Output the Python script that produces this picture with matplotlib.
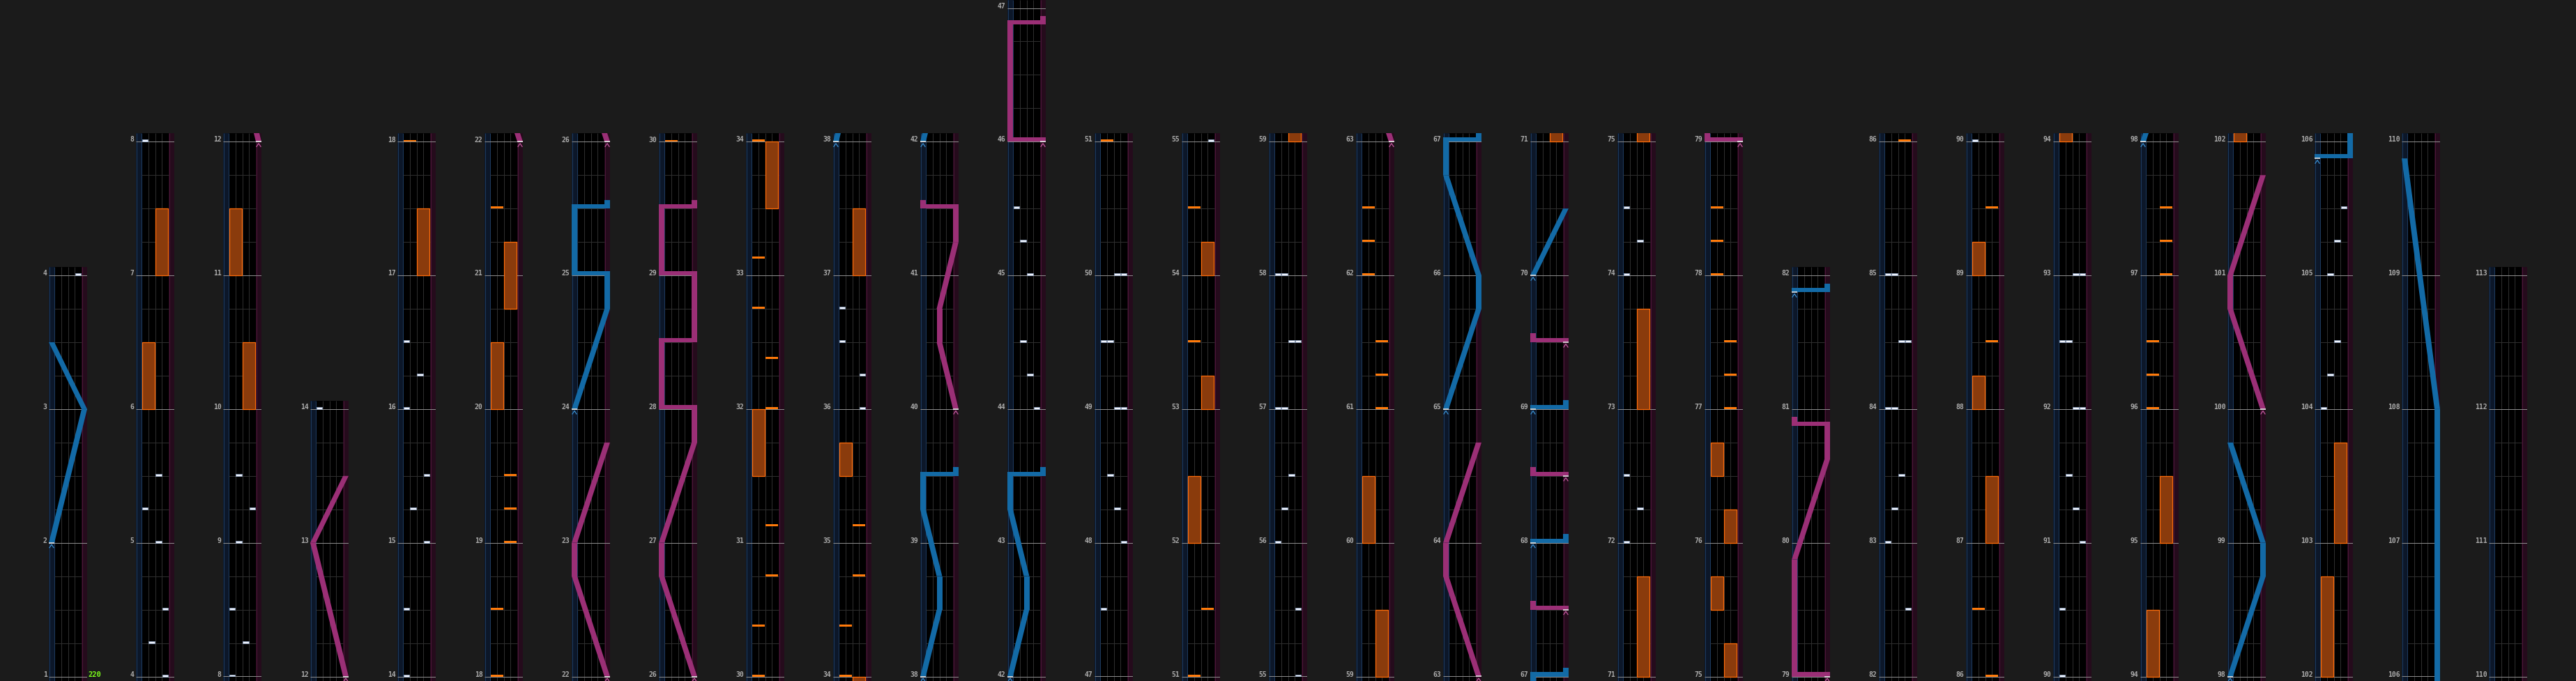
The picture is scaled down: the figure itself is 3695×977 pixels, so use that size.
import matplotlib
matplotlib.use("Agg")
import matplotlib.pyplot as plt
from matplotlib.patches import Rectangle, Polygon

# ---------------- data ----------------
COLUMNS = [(1, 4), (4, 8), (8, 12), (12, 14), (14, 18), (18, 22), (22, 26), (26, 30),
           (30, 34), (34, 38), (38, 42), (42, 47), (47, 51), (51, 55), (55, 59), (59, 63),
           (63, 67), (67, 71), (71, 75), (75, 79), (79, 82), (82, 86), (86, 90), (90, 94),
           (94, 98), (98, 102), (102, 106), (106, 110), (110, 113)]

BPM_TEXT = "220"
BPM_MEASURE = 1

# BT chips: (measure time, lane 0..3)
BT_CHIPS = [(4.0, 3), (4.25, 1), (4.5, 3), (5.0, 2), (5.25, 0), (5.5, 2), (8.0, 0),
            (8.25, 2), (8.5, 0), (9.0, 1), (9.25, 3), (9.5, 1),
            (14.0, 0), (14.5, 0), (15.0, 3), (15.25, 1), (15.5, 3), (16.0, 0), (16.25, 2), (16.5, 0),
            (36.0, 3), (36.25, 3), (36.5, 0), (36.75, 0),
            (44.0, 3), (44.25, 2), (44.5, 1), (45.0, 2), (45.25, 1), (45.5, 0),
            (47.5, 0), (48.0, 3), (48.25, 2), (48.5, 1), (49.0, 2), (49.0, 3), (49.5, 0), (49.5, 1),
            (50.0, 2), (50.0, 3),
            (55.0, 3), (55.5, 3), (56.0, 0), (56.25, 1), (56.5, 2), (57.0, 0), (57.0, 1),
            (57.5, 2), (57.5, 3), (58.0, 0), (58.0, 1),
            (72.0, 0), (72.25, 2), (72.5, 0), (74.0, 0), (74.25, 2), (74.5, 0),
            (82.5, 3), (83.0, 0), (83.25, 1), (83.5, 2), (84.0, 0), (84.0, 1), (84.5, 2), (84.5, 3),
            (85.0, 0), (85.0, 1),
            (90.0, 0), (90.5, 0), (91.0, 3), (91.25, 2), (91.5, 1), (92.0, 2), (92.0, 3),
            (92.5, 0), (92.5, 1), (93.0, 2), (93.0, 3),
            (104.0, 0), (104.25, 1), (104.5, 2), (105.0, 1), (105.25, 2), (105.5, 3)]

# FX chips: (measure time, side 0=left 1=right)
FX_CHIPS = [(18.0, 0), (18.5, 0), (19.0, 1), (19.25, 1), (19.5, 1), (21.5, 0),
            (30.0, 0), (30.375, 0), (30.75, 1), (31.125, 1), (32.0, 1), (32.375, 1),
            (32.75, 0), (33.125, 0), (34.0, 0), (34.375, 0), (34.75, 1), (35.125, 1),
            (51.0, 0), (51.5, 1), (53.5, 0), (54.5, 0),
            (61.0, 1), (61.25, 1), (61.5, 1), (62.0, 0), (62.25, 0), (62.5, 0),
            (77.0, 1), (77.25, 1), (77.5, 1), (78.0, 0), (78.25, 0), (78.5, 0),
            (86.0, 1), (86.5, 0), (88.5, 1), (89.5, 1),
            (96.0, 0), (96.25, 0), (96.5, 0), (97.0, 1), (97.25, 1), (97.5, 1)]

# FX holds: (start, end, side)
FX_HOLDS = [(6.0, 6.5, 0), (7.0, 7.5, 1), (10.0, 10.5, 1), (11.0, 11.5, 0),
            (17.0, 17.5, 1), (20.0, 20.5, 0), (20.75, 21.25, 1),
            (31.5, 32.0, 0), (33.5, 34.0, 1), (35.5, 35.75, 0), (37.0, 37.5, 1),
            (52.0, 52.5, 0), (53.0, 53.25, 1), (54.0, 54.25, 1),
            (59.0, 59.5, 1), (60.0, 60.5, 0),
            (71.0, 71.75, 1), (73.0, 73.75, 1),
            (75.0, 75.25, 1), (75.5, 75.75, 0), (76.0, 76.25, 1), (76.5, 76.75, 0),
            (87.0, 87.5, 1), (88.0, 88.25, 0), (89.0, 89.25, 0),
            (94.0, 94.5, 0), (95.0, 95.5, 1),
            (102.0, 102.75, 0), (103.0, 103.75, 1)]

# Lasers: list of (time, position 0..1); equal times = slam
LEFT_LASERS = [
    [(2.0, 0), (3.0, 1), (3.5, 0)],
    [(24.0, 0), (24.75, 1), (25.0, 1), (25.0, 0), (25.5, 0), (25.5, 1)],
    [(38.0, 0), (38.5, 0.5), (38.75, 0.5), (39.25, 0), (39.5, 0), (39.5, 1)],
    [(42.0, 0), (42.5, 0.5), (42.75, 0.5), (43.25, 0), (43.5, 0), (43.5, 1)],
    [(65.0, 0), (65.75, 1), (66.0, 1), (66.75, 0), (67.0, 0), (67.0, 1)],
    [(68.0, 0), (68.0, 1)],
    [(69.0, 0), (69.0, 1)],
    [(70.0, 0), (70.5, 1)],
    [(81.875, 0), (81.875, 1)],
    [(98.0, 0), (98.75, 1), (99.0, 1), (99.75, 0)],
    [(105.875, 0), (105.875, 1), (108.0, 1), (109.875, 0)],
]
RIGHT_LASERS = [
    [(12.0, 1), (13.0, 0), (13.5, 1)],
    [(22.0, 1), (22.75, 0), (23.0, 0), (23.75, 1)],
    [(26.0, 1), (26.75, 0), (27.0, 0), (27.75, 1), (28.0, 1), (28.0, 0), (28.5, 0), (28.5, 1),
     (29.0, 1), (29.0, 0), (29.5, 0), (29.5, 1)],
    [(40.0, 1), (40.5, 0.5), (40.75, 0.5), (41.25, 1), (41.5, 1), (41.5, 0)],
    [(46.0, 1), (46.0, 0), (46.875, 0), (46.875, 1)],
    [(63.0, 1), (63.75, 0), (64.0, 0), (64.75, 1)],
    [(67.5, 1), (67.5, 0)],
    [(68.5, 1), (68.5, 0)],
    [(69.5, 1), (69.5, 0)],
    [(79.0, 1), (79.0, 0), (79.875, 0), (80.625, 1), (80.875, 1), (80.875, 0)],
    [(100.0, 1), (100.75, 0), (101.0, 0), (101.75, 1)],
]

# ---------------- layout / style ----------------
W, H = 3695, 978
MEAS_PX = 191.8
BOTTOM_PX = 6.5
TOP_PX = 12.0
COL_X0 = 70
COL_STEP = 125
COL_W = 55.0
STRIP = 8.0
LANE_W = (COL_W - 2 * STRIP) / 4
PX = 1.0 / MEAS_PX
LW1 = 0.72

BG = "#1b1b1b"
BLUE = "#136aa6"
BLUE_L = "#3a8fd0"
PINK = "#9b2f76"
PINK_L = "#c45aa0"

fig = plt.figure(figsize=(W / 100, H / 100), dpi=100)
fig.patch.set_facecolor(BG)


def lx(p):
    return STRIP / 2 + p * (COL_W - STRIP)


def draw_laser(ax, pts, color, light):
    n = len(pts)
    for i in range(n - 1):
        (t0, p0), (t1, p1) = pts[i], pts[i + 1]
        x0, x1 = lx(p0), lx(p1)
        if t1 == t0:
            ax.add_patch(Rectangle((min(x0, x1) - 4, t0), abs(x1 - x0) + 8, 6 * PX,
                                   facecolor=color, edgecolor="none", zorder=5))
            if i == n - 2:
                ax.add_patch(Rectangle((x1 - 4, t0), 8, 12.5 * PX,
                                       facecolor=color, edgecolor="none", zorder=5))
        else:
            ax.add_patch(Polygon([(x0 - 4, t0), (x0 + 4, t0), (x1 + 4, t1), (x1 - 4, t1)],
                                 closed=True, facecolor=color, edgecolor="none", zorder=5))
    t0, p0 = pts[0]
    x0 = lx(p0)
    ax.plot([x0 - 4, x0 + 4], [t0, t0], color="#e6e6e6", lw=1.2, zorder=6,
            solid_capstyle="butt")
    ax.plot([x0 - 3, x0, x0 + 3], [t0 - 7 * PX, t0 - 2.5 * PX, t0 - 7 * PX],
            color=light, lw=0.9, zorder=6)


for k, (s, e) in enumerate(COLUMNS):
    n = e - s
    hpx = BOTTOM_PX + n * MEAS_PX + TOP_PX
    ax = fig.add_axes([(COL_X0 + COL_STEP * k) / W, 0, COL_W / W, hpx / H])
    ax.set_xlim(0, COL_W)
    lo, hi = s - BOTTOM_PX * PX, e + TOP_PX * PX
    ax.set_ylim(lo, hi)
    ax.set_facecolor("black")
    ax.set_xticks([])
    ax.set_yticks([])
    for sp in ax.spines.values():
        sp.set_visible(False)

    # laser strips
    ax.add_patch(Rectangle((0, lo), STRIP, hi - lo, facecolor="#0c1729", edgecolor="none", zorder=0.5))
    ax.add_patch(Rectangle((COL_W - STRIP, lo), STRIP, hi - lo, facecolor="#250b1c",
                           edgecolor="none", zorder=0.5))
    for xv, c in [(0.5, "#1d3a5e"), (STRIP - 0.5, "#1d3a5e"),
                  (COL_W - STRIP + 0.5, "#4a1537"), (COL_W - 0.5, "#4a1537")]:
        ax.vlines(xv, lo, hi, colors=c, lw=LW1, zorder=0.8)
    # lane separators
    for i in range(1, 4):
        ax.vlines(STRIP + LANE_W * i, lo, hi, colors="#2e2e2e", lw=LW1, zorder=1)
    # beat lines
    beats = [s + q * 0.25 for q in range(-1, n * 4 + 2) if q % 4 != 0]
    ax.hlines(beats, STRIP, COL_W - STRIP, colors="#2e2e2e", lw=LW1, zorder=1)
    # measure lines and labels
    ax.hlines(list(range(s, e + 1)), 0, COL_W, colors="#8c8c8c", lw=LW1, zorder=2)
    for m in range(s, e + 1):
        ax.text(-2.5, m + 0.8 * PX, str(m), ha="right", va="baseline", fontsize=7,
                family="DejaVu Sans Mono", fontweight="bold", color="#ababab", clip_on=False)

    # FX holds
    for t0, t1, side in FX_HOLDS:
        if t1 < lo or t0 > hi:
            continue
        x0 = STRIP + 2 * LANE_W * side + 0.6
        ax.add_patch(Rectangle((x0, t0), 2 * LANE_W - 1.2, t1 - t0, facecolor="#8a3b0c",
                               edgecolor="#ff6c0a", lw=0.9, zorder=3))
    # FX chips
    for t, side in FX_CHIPS:
        if t < lo - 0.05 or t > hi:
            continue
        x0 = STRIP + 2 * LANE_W * side + 0.6
        ax.add_patch(Rectangle((x0, t), 2 * LANE_W - 1.2, 2.8 * PX, facecolor="#ff7a0a",
                               edgecolor="none", zorder=4))
    # BT chips
    for t, lane in BT_CHIPS:
        if t < lo - 0.05 or t > hi:
            continue
        x0 = STRIP + LANE_W * lane + 0.7
        ax.add_patch(Rectangle((x0, t), LANE_W - 1.4, 2.8 * PX, facecolor="#f2f6ff",
                               edgecolor="#8fa6c8", lw=0.5, zorder=4))
    # lasers
    for pts in LEFT_LASERS:
        if pts[-1][0] < lo - 0.1 or pts[0][0] > hi + 0.1:
            continue
        draw_laser(ax, pts, BLUE, BLUE_L)
    for pts in RIGHT_LASERS:
        if pts[-1][0] < lo - 0.1 or pts[0][0] > hi + 0.1:
            continue
        draw_laser(ax, pts, PINK, PINK_L)

    if s <= BPM_MEASURE <= e:
        ax.text(COL_W + 1.5, BPM_MEASURE + 0.8 * PX, BPM_TEXT, ha="left", va="baseline",
                fontsize=7.5, family="DejaVu Sans Mono", fontweight="bold", color="#7cff1a",
                clip_on=False)

fig.savefig("out.png", dpi=100, facecolor=BG)
